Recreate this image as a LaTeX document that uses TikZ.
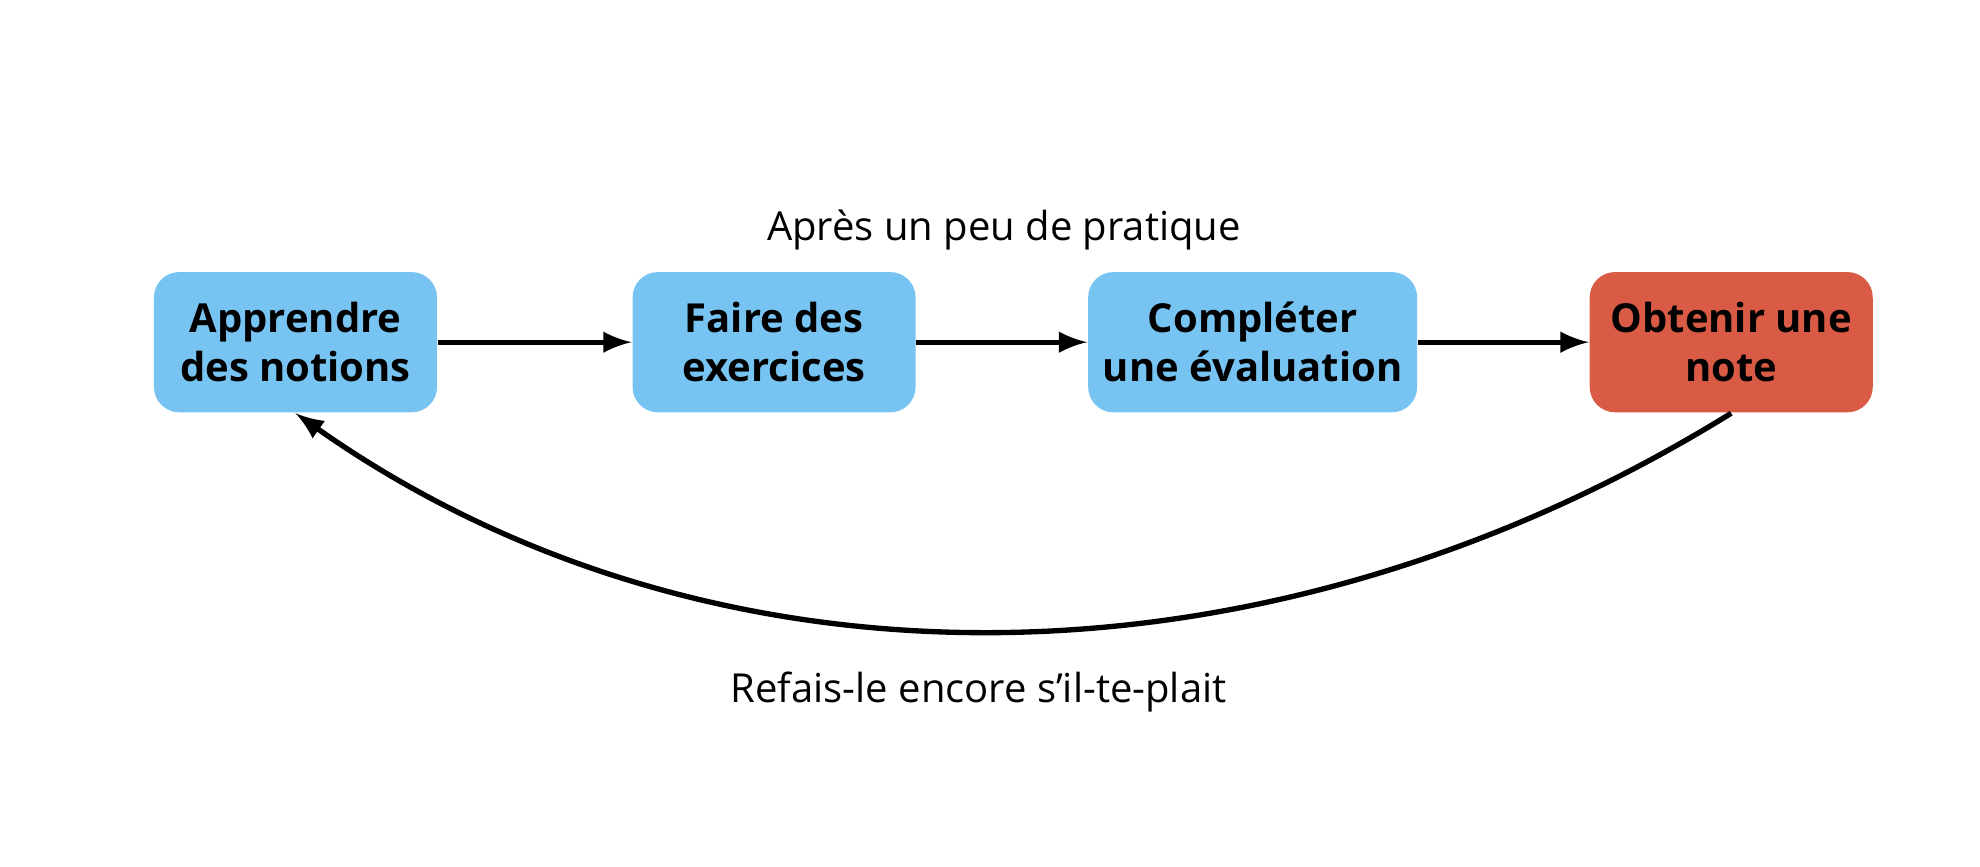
\documentclass[tikz,border=0pt]{standalone}
\usepackage{fontspec}
\setmainfont{Open Sans}
\usetikzlibrary{positioning}
\definecolor{boxblue}{HTML}{77C3F1}
\definecolor{boxred}{HTML}{D95B45}
\begin{document}
\begin{tikzpicture}[x=0.01cm,y=-0.01cm,>=latex]
        \useasboundingbox (0,0) rectangle (1568,686);
        \tikzset{stage/.style={rounded corners=0.2cm,minimum width=2.24cm,minimum height=1.11cm,
                align=center,font=\fontsize{9}{11}\selectfont\bfseries,fill=boxblue},
                flow/.style={->,line width=1.2pt}}

        % the four stages
        \node[stage] (learn) at (234,271) {Apprendre\\des notions};
        \node[stage] (exo) at (613,271) {Faire des\\exercices};
        \node[stage] (eval) at (992,271) {Compléter\\une évaluation};
        \node[stage,fill=boxred] (grade) at (1371,271) {Obtenir une\\note};

        \draw[flow] (learn) -- (exo);
        \draw[flow] (exo) -- (eval);
        \draw[flow] (eval) -- (grade);

        % back to the start
        \draw[flow] (grade.south) .. controls (1000,557) and (560,557) .. (learn.south);

        \node (practice) at (795,182) {\fontsize{9}{11}\selectfont Après un peu de pratique};
        \node (again) at (775,548) {\fontsize{9}{11}\selectfont Refais-le encore s'il-te-plait};
\end{tikzpicture}
\end{document}
